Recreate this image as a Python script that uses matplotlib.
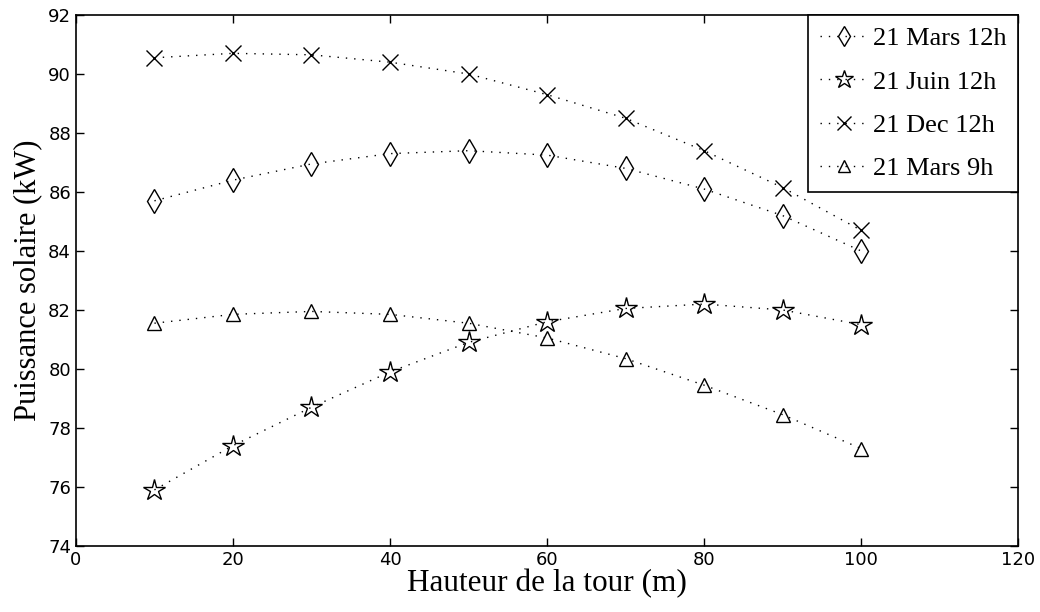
import numpy as np
import matplotlib
matplotlib.use("Agg")
import matplotlib.pyplot as plt

# hauteur de la tour (m)
hauteur = [10, 20, 30, 40, 50, 60, 70, 80, 90, 100]

# puissance solaire (kW)
mars_12h = [85.7, 86.4, 86.95, 87.3, 87.4, 87.25, 86.8, 86.1, 85.2, 84.0]
juin_12h = [75.9, 77.4, 78.7, 79.9, 80.9, 81.6, 82.05, 82.2, 82.0, 81.5]
dec_12h = [90.55, 90.7, 90.65, 90.4, 90.0, 89.3, 88.5, 87.4, 86.15, 84.7]
mars_9h = [81.55, 81.85, 81.95, 81.85, 81.55, 81.05, 80.35, 79.45, 78.45, 77.3]

labels = ["21 Mars 12h", "21 Juin 12h", "21 Dec 12h", "21 Mars 9h"]

serif = ["Liberation Serif", "DejaVu Serif"]

fig = plt.figure(figsize=(10.4, 6.12), dpi=100)
ax = fig.add_axes([0.073, 0.108, 0.906, 0.8675])

# sparse dots like the matlab ':' style
style = dict(color="k", linestyle=(0, (1, 5)), linewidth=1.0, markerfacecolor="none",
             markeredgecolor="k", markeredgewidth=1.0)
ax.plot(hauteur, mars_12h, marker="d", markersize=12, label=labels[0], **style)
ax.plot(hauteur, juin_12h, marker="*", markersize=16, label=labels[1], **style)
ax.plot(hauteur, dec_12h, marker="x", markersize=12, label=labels[2], **style)
ax.plot(hauteur, mars_9h, marker="^", markersize=10, label=labels[3], **style)

ax.set_xlim(0, 120)
ax.set_ylim(74, 92)
ax.set_xticks(np.arange(0, 121, 20))
ax.set_yticks(np.arange(74, 93, 2))
ax.tick_params(direction="in", top=True, right=True, length=6, width=1,
               labelsize=13, colors="k")
for s in ax.spines.values():
    s.set_linewidth(1.2)
    s.set_color("k")

ax.set_xlabel("Hauteur de la tour (m)", fontsize=22.5, family=serif, labelpad=0)
ax.set_ylabel("Puissance solaire (kW)", fontsize=22, family=serif, labelpad=4)

leg = ax.legend(loc="upper right", borderaxespad=0, fancybox=False,
                framealpha=1, edgecolor="k", handlelength=1.8,
                prop={"family": serif, "size": 19}, labelspacing=0.75,
                handletextpad=0.2, borderpad=0.45, markerscale=0.85)
leg.get_frame().set_linewidth(1.2)

fig.savefig("out.png", dpi=100, facecolor="white")
